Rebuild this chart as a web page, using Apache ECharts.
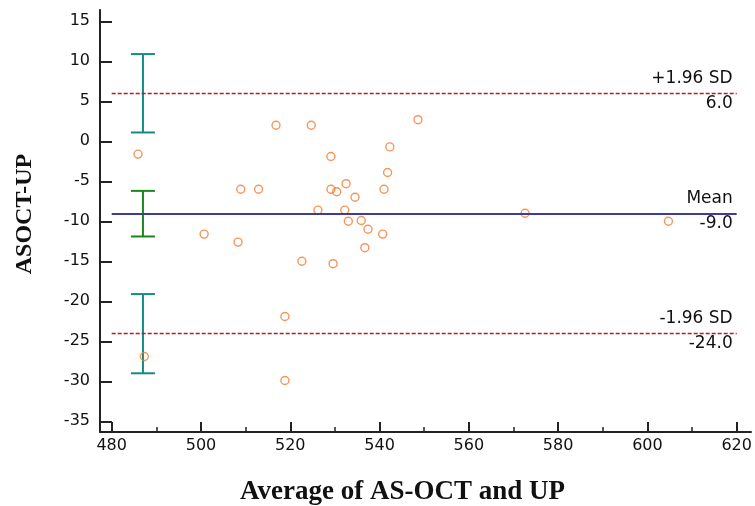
<!DOCTYPE html>
<html>
<head>
<meta charset="utf-8">
<script src="https://cdn.jsdelivr.net/npm/echarts@6/dist/echarts.min.js"></script>
<style>
html,body{margin:0;padding:0;background:#fff;}
#chart{width:755px;height:506px;}
</style>
</head>
<body>
<div id="chart"></div>
<script>
// ---- data ----
const avgValues = [485.9, 487.3, 500.7, 508.3, 508.9, 512.9, 516.8, 518.8, 518.8, 522.6,
                   524.7, 526.2, 529.1, 529.1, 529.6, 530.4, 532.5, 532.2, 533.0, 534.5,
                   535.9, 537.4, 536.7, 540.7, 541.0, 541.8, 542.3, 548.6, 572.6, 604.7];
const diffValues = [-1.6, -26.9, -11.6, -12.6, -6.0, -6.0, 2.0, -21.9, -29.9, -15.0,
                    2.0, -8.6, -1.9, -6.0, -15.3, -6.3, -5.3, -8.6, -10.0, -7.0,
                    -9.9, -11.0, -13.3, -11.6, -6.0, -3.9, -0.7, 2.7, -9.0, -10.0];

const limitNames = ['+1.96 SD', 'Mean', '-1.96 SD'];
const limitValues = [6.0, -9.0, -24.0];
const ciLow = [1.1, -11.9, -29.0];
const ciHigh = [10.9, -6.2, -19.1];
const ciX = 487;
const lineStartX = 480;
const lineEndX = 620;

const xTicks = [480, 500, 520, 540, 560, 580, 600, 620];
const xMinorTicks = [490, 510, 530, 550, 570, 590, 610];
const yTicks = [-35, -30, -25, -20, -15, -10, -5, 0, 5, 10, 15];

const xTitle = 'Average of AS-OCT and UP';
const yTitle = 'ASOCT-UP';

// ---- chart ----
const chart = echarts.init(document.getElementById('chart'), null, {renderer: 'canvas'});

const axisColor = '#222';
const tickFont = {fontFamily: 'DejaVu Sans', fontSize: 16, color: '#111'};
const xMin = 477.38, xMax = 623.2, yMin = -36.34, yMax = 16.41;

const scatterData = avgValues.map((v, i) => [v, diffValues[i]]);
const ciColors = ['#148a87', '#15891b', '#148a87'];
const lineStyles = [
  {color: '#b02020', width: 1.4, type: [4, 2], opacity: 1},
  {color: '#3d3d99', width: 2, type: 'solid', opacity: 1},
  {color: '#b02020', width: 1.4, type: [4, 2], opacity: 1}
];

const markLineData = limitValues.map((v, i) => [
  {coord: [lineStartX, v], lineStyle: lineStyles[i],
   label: {
     show: true, position: 'insideEnd', distance: [4, 0],
     formatter: '{a|' + limitNames[i] + '}\n{b|' + v.toFixed(1) + '}',
     align: 'right',
     rich: {
       a: {fontFamily: 'DejaVu Sans', fontSize: 17, color: '#111', lineHeight: 20, align: 'right'},
       b: {fontFamily: 'DejaVu Sans', fontSize: 17, color: '#111', lineHeight: 30, align: 'right'}
     }
   }},
  {coord: [lineEndX, v]}
]);

const ciData = limitValues.map((v, i) => [ciX, ciLow[i], ciHigh[i], i]);

const option = {
  animation: false,
  backgroundColor: '#fff',
  grid: {left: 100, right: 4, top: 10, bottom: 74, containLabel: false, outerBoundsMode: 'none'},
  xAxis: [{
    type: 'value', min: xMin, max: xMax,
    name: xTitle, nameLocation: 'middle', nameGap: 47,
    nameTextStyle: {fontFamily: 'Liberation Serif', fontWeight: 'bold', fontSize: 27, color: '#111', padding: [0, 46, 0, 0]},
    axisLine: {show: true, onZero: false, lineStyle: {color: axisColor, width: 2}},
    axisTick: {show: true, inside: true, length: 10, lineStyle: {color: axisColor, width: 2}, customValues: xTicks},
    axisLabel: Object.assign({show: true, margin: 6, customValues: xTicks}, tickFont),
    splitLine: {show: false}
  }, {
    type: 'value', min: xMin, max: xMax, position: 'bottom',
    axisLine: {show: false, onZero: false},
    axisTick: {show: true, inside: true, length: 5, lineStyle: {color: axisColor, width: 1.5}, customValues: xMinorTicks},
    axisLabel: {show: false},
    splitLine: {show: false}
  }],
  yAxis: {
    type: 'value', min: yMin, max: yMax,
    name: yTitle, nameLocation: 'middle', nameGap: 63,
    nameTextStyle: {fontFamily: 'Liberation Serif', fontWeight: 'bold', fontSize: 24, color: '#111', padding: [0, 0, 0, 14]},
    axisLine: {show: true, onZero: false, lineStyle: {color: axisColor, width: 2}},
    axisTick: {show: true, inside: true, length: 12, lineStyle: {color: axisColor, width: 2}, customValues: yTicks},
    axisLabel: Object.assign({show: true, margin: 10, customValues: yTicks}, tickFont),
    splitLine: {show: false}
  },
  series: [
    {
      type: 'line', data: [], z: 1, silent: true,
      markLine: {
        silent: true, symbol: ['none', 'none'],
        data: markLineData
      }
    },
    {
      type: 'custom', z: 2, silent: true,
      data: ciData,
      renderItem: function (params, api) {
        const x = api.value(0);
        const lo = api.coord([x, api.value(1)]);
        const hi = api.coord([x, api.value(2)]);
        const col = ciColors[api.value(3)];
        const hw = 12;
        const st = {stroke: col, lineWidth: 2};
        return {
          type: 'group',
          children: [
            {type: 'line', shape: {x1: lo[0], y1: lo[1], x2: hi[0], y2: hi[1]}, style: st},
            {type: 'line', shape: {x1: lo[0] - hw, y1: lo[1], x2: lo[0] + hw, y2: lo[1]}, style: st},
            {type: 'line', shape: {x1: hi[0] - hw, y1: hi[1], x2: hi[0] + hw, y2: hi[1]}, style: st}
          ]
        };
      }
    },
    {
      type: 'scatter', z: 3, data: scatterData,
      symbol: 'circle', symbolSize: 8,
      itemStyle: {color: 'rgba(255,255,255,0)', borderColor: '#f47a2e', borderWidth: 1.4}
    }
  ]
};
chart.setOption(option);
</script>
</body>
</html>
